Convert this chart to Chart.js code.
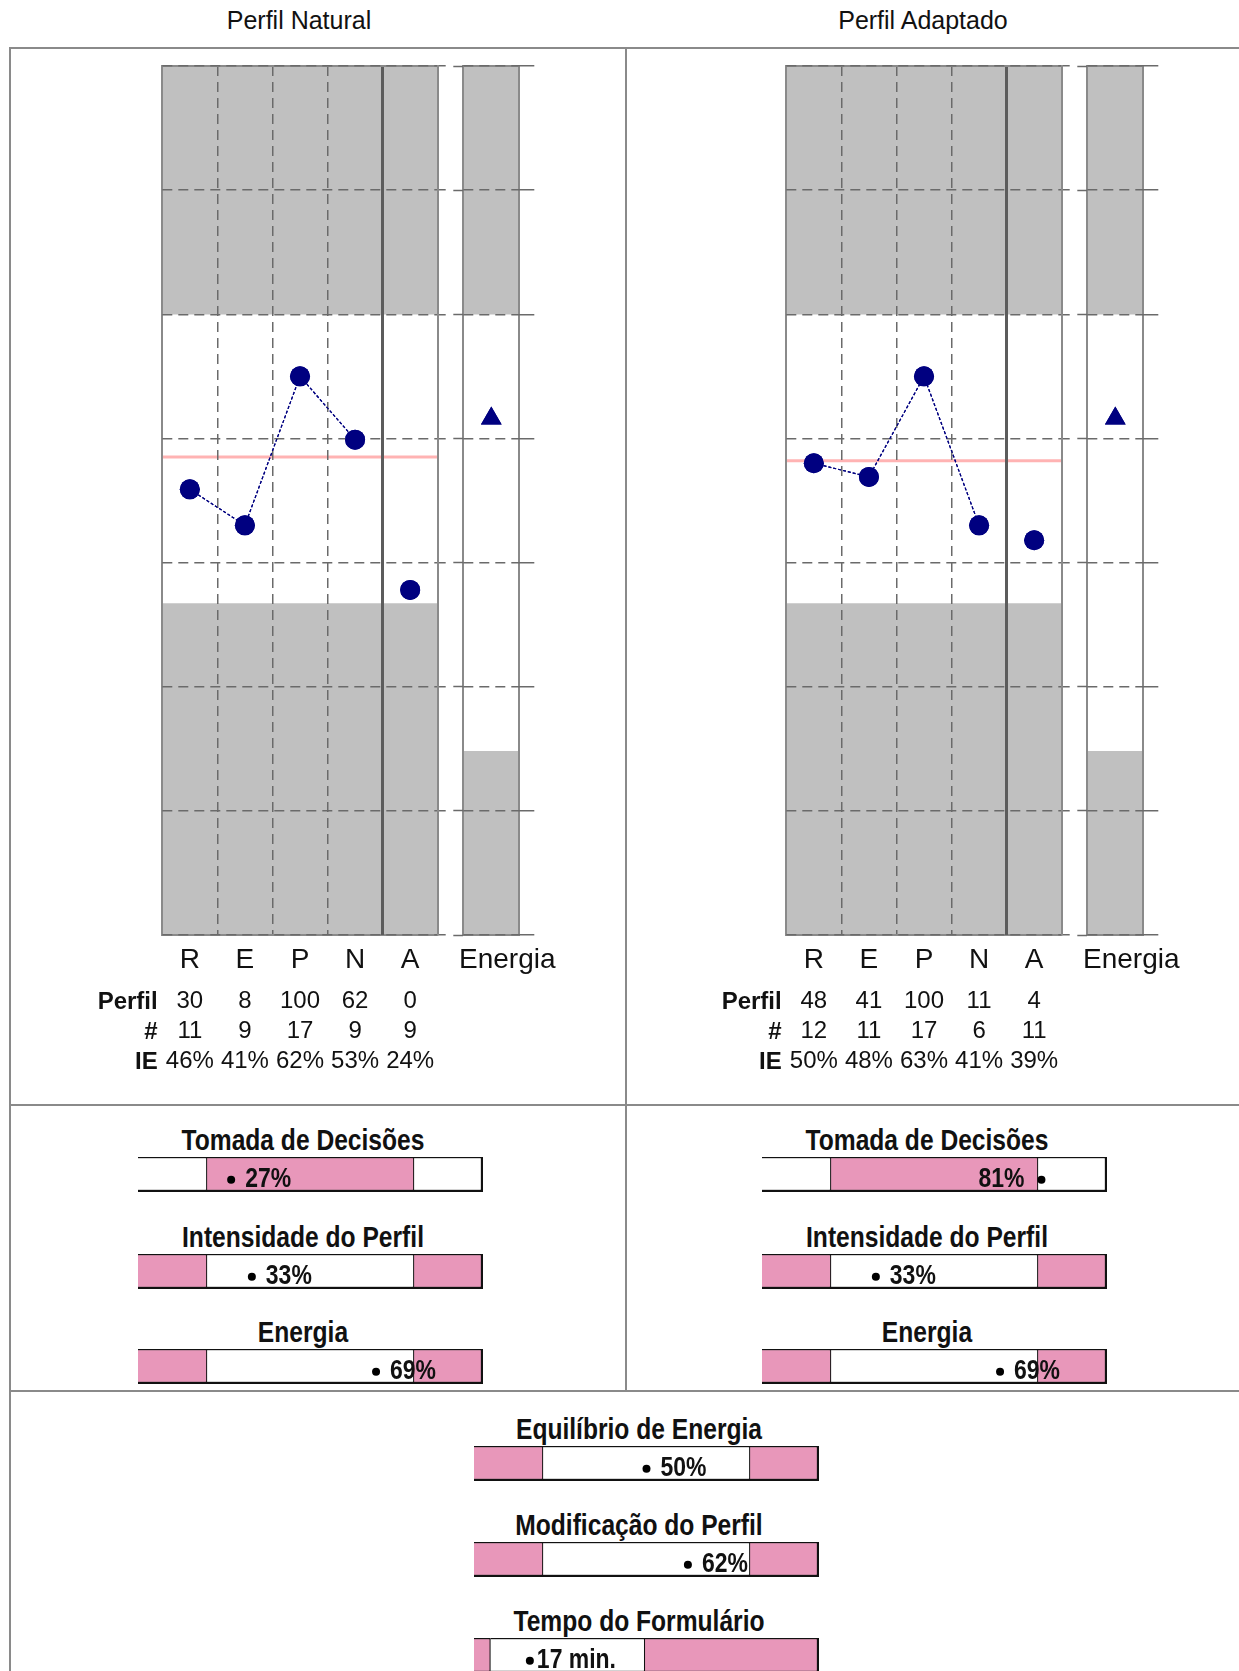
<!DOCTYPE html>
<html><head><meta charset="utf-8">
<script src="https://cdn.jsdelivr.net/npm/chart.js"></script>
<style>
html,body{margin:0;padding:0;background:#fff;}
#page{position:relative;width:1239px;height:1671px;overflow:hidden;font-family:"Liberation Sans",Arial,sans-serif;color:#111;}
.ln{position:absolute;background:#8a8a8a;}
.ptitle{position:absolute;top:5px;width:300px;font-size:25px;line-height:30px;text-align:center;white-space:nowrap;}
.rowlbl{position:absolute;width:100px;font-weight:bold;font-size:24px;line-height:30px;text-align:right;}
.gtitle{position:absolute;width:400px;font-weight:bold;font-size:30px;line-height:34px;text-align:center;white-space:nowrap;transform:scaleX(0.82);transform-origin:50% 50%;}
canvas{position:absolute;}
</style></head><body><div id="page"></div>
<script>
// ---------- data ----------
const panelTitles = ['Perfil Natural', 'Perfil Adaptado'];
const categories = ['R', 'E', 'P', 'N', 'A'];
const energyCategory = ['Energia'];
const yMin = 0, yMax = 70, yStep = 10;

const naturalProfile = [35.9, 33.0, 45.0, 39.9, 27.8];
const adaptedProfile = [38.0, 36.9, 45.0, 33.0, 31.8];
const naturalMean = 38.5;
const adaptedMean = 38.2;
const naturalEnergy = [41.6];
const adaptedEnergy = [41.6];

const profileLowZone  = [[0, 26.7], [0, 26.7], [0, 26.7], [0, 26.7], [0, 26.7]];
const profileHighZone = [[50, 70], [50, 70], [50, 70], [50, 70], [50, 70]];
const energyLowZone  = [[0, 14.8]];
const energyHighZone = [[50, 70]];

const tableRowLabels = ['Perfil', '#', 'IE'];
const naturalPerfil = ['30', '8', '100', '62', '0'];
const naturalCount  = ['11', '9', '17', '9', '9'];
const naturalIE     = ['46%', '41%', '62%', '53%', '24%'];
const adaptedPerfil = ['48', '41', '100', '11', '4'];
const adaptedCount  = ['12', '11', '17', '6', '11'];
const adaptedIE     = ['50%', '48%', '63%', '41%', '39%'];

const gaugeNames = ['Tomada de Decisões', 'Intensidade do Perfil', 'Energia'];
const naturalGaugeValues = [27, 33, 69];
const adaptedGaugeValues = [81, 33, 69];
const gaugeZones = [[20, 80, 100], [20, 80, 100], [20, 80, 100]];
const gaugePink  = [[false, true, false], [true, false, true], [true, false, true]];

const summaryNames  = ['Equilíbrio de Energia', 'Modificação do Perfil', 'Tempo do Formulário'];
const summaryValues = [50, 62, 17];
const summaryUnits  = ['%', '%', ' min.'];
const summaryZones  = [[20, 80, 100], [20, 80, 100], [5, 52, 105]];
const summaryPink   = [[true, false, true], [true, false, true], [true, false, true]];

// ---------- helpers ----------
const FONT = '"Liberation Sans", Arial, sans-serif';
const PINK = '#e897ba';
const GRID = '#6a6a6a';
const EDGE = '#8a8a8a';
const NAVY = '#000080';
const page = document.getElementById('page');
Chart.defaults.font.family = FONT;

function div(cls, x, y, text) {
  const d = document.createElement('div');
  d.className = cls; d.style.left = x + 'px'; d.style.top = y + 'px';
  if (text !== undefined) d.textContent = text;
  page.appendChild(d); return d;
}
function rule(x, y, w, h) { const d = div('ln', x, y); d.style.width = w + 'px'; d.style.height = h + 'px'; }
function makeCanvas(x, y, w, h) {
  const c = document.createElement('canvas');
  c.width = w; c.height = h;
  c.style.left = x + 'px'; c.style.top = y + 'px';
  c.style.width = w + 'px'; c.style.height = h + 'px';
  page.appendChild(c);
  return c.getContext('2d');
}

// frame
rule(9, 47, 1230, 2);
rule(9, 47, 2, 1624);
rule(625, 47, 2, 1345);
rule(9, 1104, 1230, 2);
rule(9, 1390, 1230, 2);

const frontPlugin = {
  id: 'front',
  afterDraw(chart) {
    chart.data.datasets.forEach((ds, i) => {
      if (ds.front) chart.getDatasetMeta(i).controller.draw();
    });
  }
};

const baseOpts = {
  responsive: false, animation: false, events: [],
  plugins: { legend: { display: false }, tooltip: { enabled: false }, title: { display: false } }
};

function fixH(h) { return s => { s.height = h; s.paddingLeft = 0; s.paddingRight = 0; }; }

function tableAxis(labels, h) {
  return {
    type: 'category', position: 'bottom', offset: true, labels: labels,
    grid: { display: false, drawTicks: false }, border: { display: false },
    ticks: { color: '#111', font: { family: FONT, size: 24 }, padding: 5.6, autoSkip: false, maxRotation: 0, minRotation: 0 },
    afterFit: fixH(h)
  };
}

function profileChart(dx, profile, mean, perfil, counts, ie) {
  const ctx = makeCanvas(140 + dx, 56, 320, 1019);
  new Chart(ctx, {
    type: 'bar',
    data: {
      labels: categories,
      datasets: [
        { type: 'line', data: profile, front: true, order: 1, xAxisID: 'x', yAxisID: 'y',
          borderColor: NAVY, borderWidth: 1.2, borderDash: [3, 2], tension: 0, fill: false,
          pointRadius: 10, pointHoverRadius: 10, pointBackgroundColor: NAVY, pointBorderColor: NAVY, pointBorderWidth: 0,
          segment: { borderColor: s => s.p1DataIndex === 4 ? 'rgba(0,0,0,0)' : NAVY } },
        { type: 'line', data: [{ x: 0, y: mean }, { x: 1, y: mean }], order: 2, xAxisID: 'xl', yAxisID: 'y',
          borderColor: '#ffb3b3', borderWidth: 3, pointRadius: 0, fill: false },
        { type: 'bar', data: profileLowZone, order: 3, xAxisID: 'x', yAxisID: 'y', backgroundColor: '#c0c0c0',
          grouped: false, barPercentage: 1, categoryPercentage: 1, borderWidth: 0 },
        { type: 'bar', data: profileHighZone, order: 3, xAxisID: 'x', yAxisID: 'y', backgroundColor: '#c0c0c0',
          grouped: false, barPercentage: 1, categoryPercentage: 1, borderWidth: 0 }
      ]
    },
    options: Object.assign({}, baseOpts, {
      layout: { autoPadding: false, padding: { left: 22.3, right: 14.3, top: 10, bottom: 0 } },
      scales: {
        x: { type: 'category', position: 'bottom', offset: true,
             grid: { display: true, offset: true, drawTicks: false, z: 1, lineWidth: 1.5,
                     color: c => (c.index >= 1 && c.index <= 3) ? GRID : 'rgba(0,0,0,0)' },
             border: { display: true, color: EDGE, width: 2, z: 1, dash: [10, 6] },
             ticks: { color: '#111', font: { family: FONT, size: 28 }, padding: 8.5, autoSkip: false, maxRotation: 0, minRotation: 0 },
             afterFit: fixH(46) },
        xP: tableAxis(perfil, 30),
        xN: tableAxis(counts, 30),
        xI: tableAxis(ie, 34),
        x2: { type: 'category', position: 'top', offset: true, labels: categories,
              grid: { display: true, offset: true, drawTicks: false, z: 1,
                      lineWidth: c => c.index === 4 ? 3 : 2,
                      color: c => c.index === 4 ? '#5c5c5c' : ((c.index === 0 || c.index === 5) ? EDGE : 'rgba(0,0,0,0)') },
              border: { display: true, color: EDGE, width: 2, z: 1 },
              ticks: { display: false }, afterFit: fixH(0) },
        xl: { type: 'linear', min: 0, max: 1, display: false, offset: false },
        y: { type: 'linear', position: 'right', min: yMin, max: yMax, offset: false,
             ticks: { display: false, stepSize: yStep },
             grid: { display: true, drawTicks: true, tickLength: 8, z: 1, lineWidth: 1.5, color: GRID, tickColor: GRID, tickWidth: 1.5 },
             border: { display: true, color: EDGE, width: 2, z: 1, dash: [10, 6] },
             afterFit: s => { s.width = 8; } }
      }
    }),
    plugins: [frontPlugin]
  });
}

function energyChart(dx, energy) {
  const ctx = makeCanvas(445 + dx, 56, 125, 925);
  new Chart(ctx, {
    type: 'bar',
    data: {
      labels: energyCategory,
      datasets: [
        { type: 'line', data: energy, front: true, order: 1, xAxisID: 'x', yAxisID: 'y', showLine: false,
          pointStyle: 'triangle', pointRadius: 12, pointHoverRadius: 12,
          pointBackgroundColor: NAVY, pointBorderColor: NAVY, pointBorderWidth: 0 },
        { type: 'bar', data: energyLowZone, order: 3, xAxisID: 'x', yAxisID: 'y', backgroundColor: '#c0c0c0',
          grouped: false, barPercentage: 1, categoryPercentage: 1, borderWidth: 0 },
        { type: 'bar', data: energyHighZone, order: 3, xAxisID: 'x', yAxisID: 'y', backgroundColor: '#c0c0c0',
          grouped: false, barPercentage: 1, categoryPercentage: 1, borderWidth: 0 }
      ]
    },
    options: Object.assign({}, baseOpts, {
      layout: { autoPadding: false, padding: { left: 8.3, right: 35.7, top: 10, bottom: 0 } },
      scales: {
        x: { type: 'category', position: 'bottom', offset: true,
             grid: { display: false, drawTicks: false },
             border: { display: true, color: EDGE, width: 2, z: 1 },
             ticks: { labelOffset: 16, color: '#111', font: { family: FONT, size: 28 }, padding: 8.5, autoSkip: false, maxRotation: 0, minRotation: 0 },
             afterFit: fixH(46) },
        x2: { type: 'category', position: 'top', offset: true, labels: energyCategory,
              grid: { display: true, offset: true, drawTicks: false, z: 1, lineWidth: 2, color: EDGE },
              border: { display: true, color: EDGE, width: 2, z: 1 },
              ticks: { display: false }, afterFit: fixH(0) },
        y: { type: 'linear', position: 'right', min: yMin, max: yMax, offset: false,
             ticks: { display: false, stepSize: yStep },
             grid: { display: true, drawTicks: true, tickLength: 15, z: 1, lineWidth: 1.5, color: GRID, tickColor: GRID, tickWidth: 1.5 },
             border: { display: false, dash: [10, 6] },
             afterFit: s => { s.width = 15; } },
        yL: { type: 'linear', position: 'left', min: yMin, max: yMax, offset: false,
              ticks: { display: false, stepSize: yStep },
              grid: { display: true, drawOnChartArea: false, drawTicks: true, tickLength: 10, z: 1, tickColor: GRID, tickWidth: 1.5 },
              border: { display: false },
              afterFit: s => { s.width = 10; } }
      }
    }),
    plugins: [frontPlugin]
  });
}

function gaugeChart(x, y, title, zones, pink, value, max, unit, side, gap) {
  const W = 345, H = 35;
  div('gtitle', x + W / 2 - 8 - 200, y - 34, title);
  const ctx = makeCanvas(x, y, W, H);
  const bounds = [[0, zones[0]], [zones[0], zones[1]], [zones[1], zones[2]]];
  const datasets = bounds.map((b, i) => ({
    type: 'bar', data: [b], order: 2, xAxisID: 'x', yAxisID: 'y',
    backgroundColor: pink[i] ? PINK : '#ffffff', borderColor: '#111', borderSkipped: false,
    borderWidth: { top: 1.5, bottom: 2.5, left: 0, right: i === 2 ? 2.5 : 1.2 },
    grouped: false, barPercentage: 1, categoryPercentage: 1
  }));
  datasets.push({ type: 'scatter', data: [{ x: value, y: 0.35 }], order: 1, xAxisID: 'x', yAxisID: 'yl',
    pointRadius: 4, pointHoverRadius: 4, pointBackgroundColor: '#000', pointBorderWidth: 0 });
  const labelPlugin = {
    id: 'gaugeLabel',
    afterDatasetsDraw(chart) {
      const pt = chart.getDatasetMeta(3).data[0];
      const c = chart.ctx; c.save();
      c.font = 'bold 28px ' + FONT; c.fillStyle = '#111'; c.textBaseline = 'alphabetic';
      c.translate(pt.x, chart.chartArea.bottom - 5); c.scale(0.82, 1);
      const text = value + unit;
      if (side === 'left') { c.textAlign = 'right'; c.fillText(text, -gap / 0.82, 0); }
      else { c.textAlign = 'left'; c.fillText(text, gap / 0.82, 0); }
      c.restore();
    }
  };
  new Chart(ctx, {
    type: 'bar',
    data: { labels: ['g'], datasets: datasets },
    options: Object.assign({}, baseOpts, {
      indexAxis: 'y',
      layout: { autoPadding: false, padding: 0 },
      scales: {
        x: { type: 'linear', min: 0, max: max, display: false, offset: false },
        y: { type: 'category', labels: ['g'], display: false, offset: true },
        yl: { type: 'linear', min: 0, max: 1, display: false, offset: false }
      }
    }),
    plugins: [labelPlugin]
  });
}

// ---------- panels ----------
const panels = [
  { dx: 0, profile: naturalProfile, mean: naturalMean, energy: naturalEnergy, perfil: naturalPerfil, counts: naturalCount, ie: naturalIE, gauges: naturalGaugeValues },
  { dx: 624, profile: adaptedProfile, mean: adaptedMean, energy: adaptedEnergy, perfil: adaptedPerfil, counts: adaptedCount, ie: adaptedIE, gauges: adaptedGaugeValues }
];
const gaugeTops = [1157, 1254, 1349];
panels.forEach((p, k) => {
  div('ptitle', 149 + p.dx, 5, panelTitles[k]);
  profileChart(p.dx, p.profile, p.mean, p.perfil, p.counts, p.ie);
  energyChart(p.dx, p.energy);
  tableRowLabels.forEach((lbl, r) => div('rowlbl', 57.7 + p.dx, 986 + r * 30, lbl));
  gaugeNames.forEach((name, g) => {
    const v = p.gauges[g];
    gaugeChart(138 + p.dx, gaugeTops[g], name, gaugeZones[g], gaugePink[g], v, 100, '%', v >= 80 ? 'left' : 'right', v >= 80 ? 17 : 14);
  });
});

const summaryTops = [1446, 1542, 1638];
summaryNames.forEach((name, g) => {
  gaugeChart(474, summaryTops[g], name, summaryZones[g], summaryPink[g], summaryValues[g], summaryZones[g][2],
    summaryUnits[g], 'right', summaryUnits[g] === '%' ? 14 : 7);
});
</script>
</body></html>
